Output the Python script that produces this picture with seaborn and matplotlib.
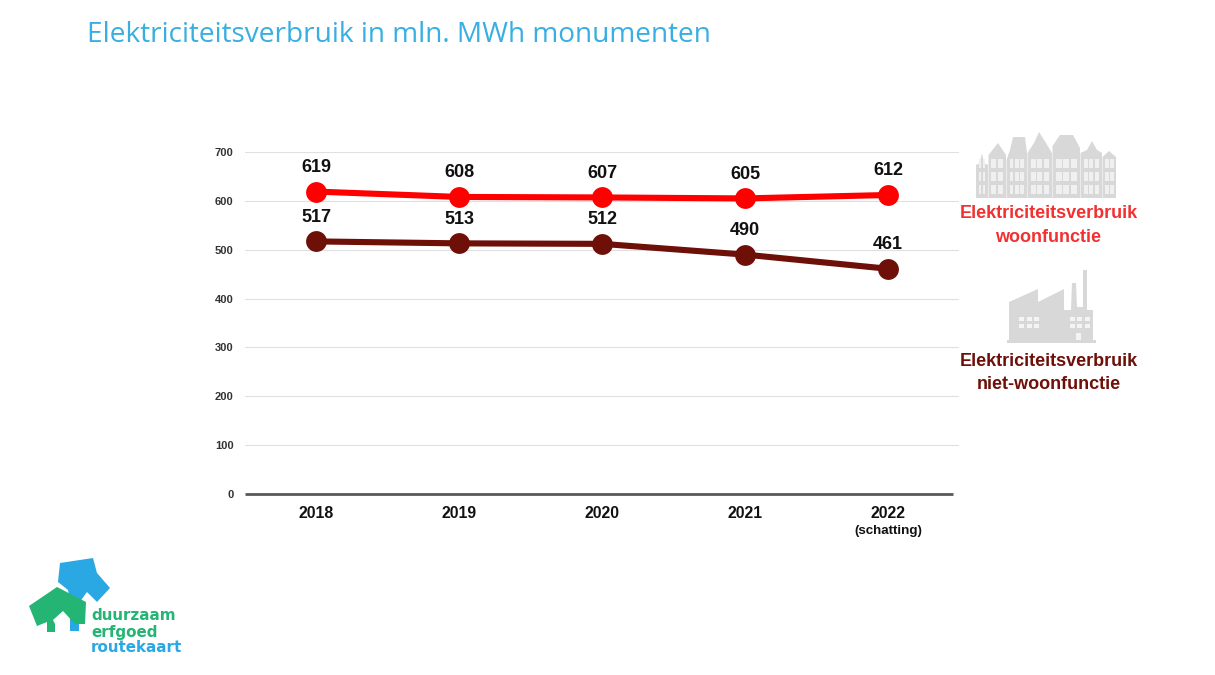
import matplotlib
matplotlib.use("Agg")
import matplotlib.pyplot as plt
from matplotlib.patches import Polygon, Rectangle
import pandas as pd
import seaborn as sns

years = ["2018", "2019", "2020", "2021", "2022"]
woon = [619, 608, 607, 605, 612]
niet_woon = [517, 513, 512, 490, 461]
yticks = [0, 100, 200, 300, 400, 500, 600, 700]
RED = "#FF0000"
DARK = "#6E0F08"
W, H = 1215, 675

sns.set_theme(style="white")
plt.rcParams['font.family'] = ['Liberation Sans', 'DejaVu Sans']

df = pd.DataFrame({
    "jaar": years * 2,
    "waarde": woon + niet_woon,
    "reeks": ["woon"] * 5 + ["niet"] * 5,
})

fig = plt.figure(figsize=(W / 100, H / 100), dpi=100, facecolor="white")
ax = fig.add_axes([244.5 / W, 1 - 494 / H, 715 / W, 342 / H])
sns.lineplot(data=df, x="jaar", y="waarde", hue="reeks", hue_order=["woon", "niet"],
             palette={"woon": RED, "niet": DARK}, marker="o", markersize=15,
             markeredgewidth=0, linewidth=4.4, legend=False, ax=ax, zorder=5,
             errorbar=None, sort=False)
ax.set_xlim(-0.5, 4.5)
ax.set_ylim(0, 700)
ax.set_yticks(yticks)
ax.set_xlabel("")
ax.set_ylabel("")
ax.set_facecolor("none")
ax.grid(axis="y", color="#E0E0E0", linewidth=0.8)
ax.grid(axis="x", visible=False)
for s in ["top", "left", "right", "bottom"]:
    ax.spines[s].set_visible(False)
ax.tick_params(axis="y", length=0, pad=8, labelsize=8.0, labelcolor="#333333")
ax.tick_params(axis="x", length=0, pad=9, labelsize=11.4, labelcolor="#111111")
for lab in ax.get_yticklabels() + ax.get_xticklabels():
    lab.set_fontweight("bold")

for series in (woon, niet_woon):
    for i, v in enumerate(series):
        ax.annotate(str(v), (i, v), xytext=(0, 11.4), textcoords="offset points", ha="center",
                    va="bottom", fontsize=13, fontweight="bold", color="#111111", zorder=6)

# overlay in pixel coordinates
ov = fig.add_axes([0, 0, 1, 1], zorder=10)
ov.set_xlim(0, W)
ov.set_ylim(H, 0)
ov.axis("off")
ov.patch.set_alpha(0)

ov.plot([245, 953], [494, 494], color="#595959", lw=2.0, solid_capstyle="butt")
ov.text(888, 531, "(schatting)", ha="center", va="center", fontsize=9.6, fontweight="bold", color="#111111")
ov.text(87, 35, "Elektriciteitsverbruik in mln. MWh monumenten", ha="left", va="center",
        fontsize=20.2, color="#38AEE2", family="Open Sans")

for y, t, c in [(214, "Elektriciteitsverbruik", "#F23030"), (237.5, "woonfunctie", "#F23030"),
                (361, "Elektriciteitsverbruik", DARK), (384.5, "niet-woonfunctie", DARK)]:
    ov.text(1048.5, y, t, ha="center", va="center", fontsize=13, fontweight="bold", color=c)

# houses icon
GREY = "#D8D8D8"
houses = [
    [(976, 198), (976, 165), (980, 163), (982, 153), (984, 163), (988, 165), (988, 198)],
    [(988.5, 198), (988.5, 155), (998, 143), (1006, 155), (1006, 198)],
    [(1006.5, 198), (1006.5, 160), (1010, 150), (1013, 137), (1025, 137), (1027, 153), (1027, 198)],
    [(1027.5, 198), (1027.5, 153), (1034, 143), (1039, 132), (1046, 143), (1052, 153), (1052, 198)],
    [(1052.5, 198), (1052.5, 146), (1060, 135), (1073, 135), (1080, 148), (1080, 198)],
    [(1080.5, 198), (1080.5, 153), (1087, 150), (1092, 141), (1097, 150), (1102, 153), (1102, 198)],
    [(1102.5, 198), (1102.5, 157), (1109, 151), (1116, 157), (1116, 198)],
]
for p in houses:
    ov.add_patch(Polygon(p, closed=True, fc=GREY, ec="none"))
for x0, x1, nx in [(978, 986, 2), (990, 1004, 2), (1009, 1025, 3), (1030, 1050, 3),
                   (1055, 1078, 3), (1083, 1100, 3), (1104, 1115, 2)]:
    step = (x1 - x0) / nx
    for j in range(nx):
        for y0 in [159, 172, 185]:
            ov.add_patch(Rectangle((x0 + j * step + 0.5, y0), step - 1.5, 9, fc="#F0F0F0", ec="none"))

# factory icon
fac = [(1007, 343), (1007, 340), (1009, 340), (1009, 302), (1038, 289), (1038, 302), (1064, 289),
       (1064, 310), (1071, 310), (1072, 283), (1076, 283), (1077, 307), (1083, 307),
       (1083, 270), (1087, 270), (1087, 310), (1093, 310), (1093, 340), (1096, 340), (1096, 343)]
ov.add_patch(Polygon(fac, closed=True, fc=GREY, ec="none"))
for xs in ([1019, 1027, 1034], [1070, 1077, 1085]):
    for x in xs:
        for y in [317, 324]:
            ov.add_patch(Rectangle((x, y), 4.5, 4.2, fc="#F4F4F4", ec="none"))
ov.add_patch(Rectangle((1076, 333), 4.5, 7, fc="#F4F4F4", ec="none"))

# logo
blue = [(60, 563), (93, 558), (97, 573), (110, 588), (97, 602), (87, 592), (79, 603), (79, 631),
        (70, 631), (70, 600), (68, 590), (58, 582)]
green = [(29, 606), (57, 587), (86, 602), (85, 624), (75, 624), (63, 611), (53, 620), (55, 624),
         (55, 632), (47, 632), (47, 622), (37, 626)]
ov.add_patch(Polygon(blue, closed=True, fc="#2AA8E4", ec="none"))
ov.add_patch(Polygon(green, closed=True, fc="#24B574", ec="none"))
for y, t, c in [(616, "duurzaam", "#24B574"), (632, "erfgoed", "#24B574"), (647, "routekaart", "#2AA8E4")]:
    ov.text(91, y, t, ha="left", va="center", fontsize=10.9, fontweight="bold", color=c, family="DejaVu Sans")

fig.savefig("out.png", dpi=100, facecolor="white")
